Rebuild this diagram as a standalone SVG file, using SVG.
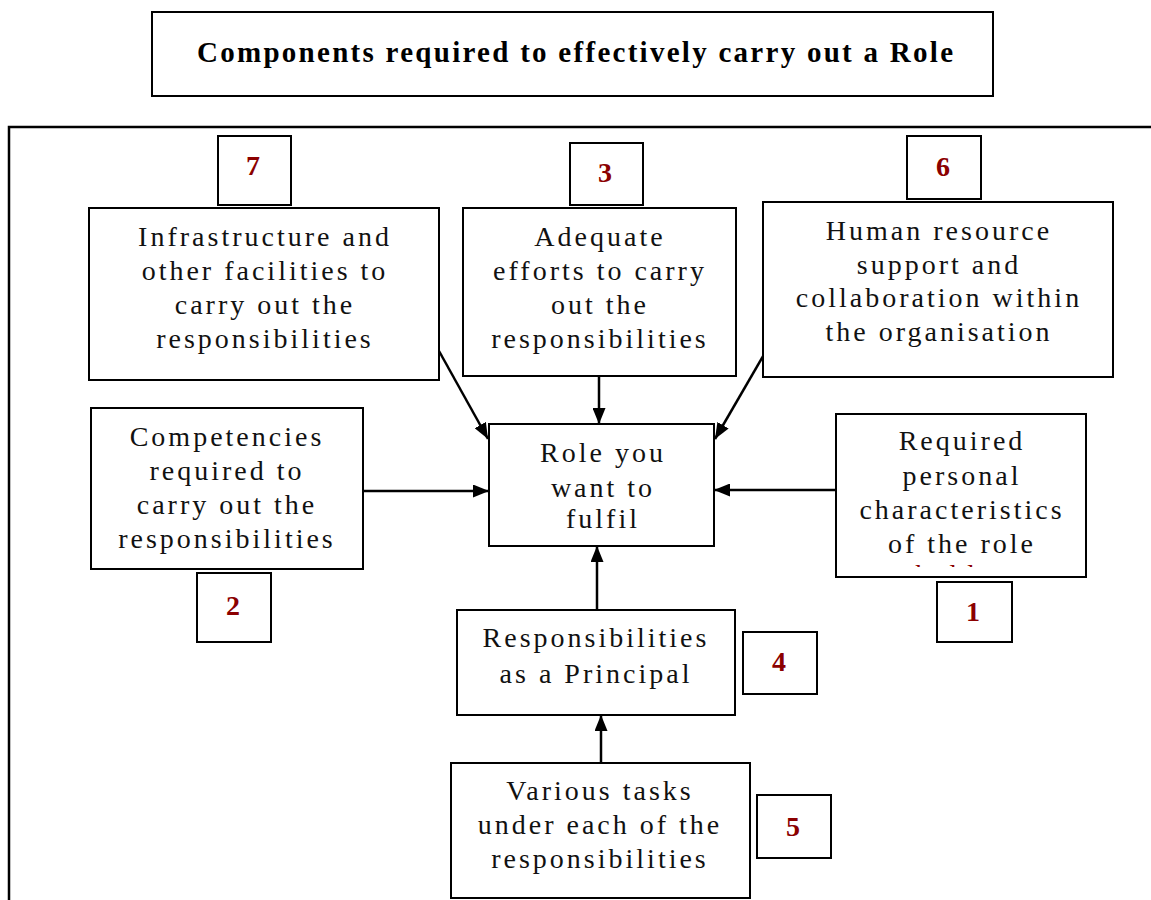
<svg xmlns="http://www.w3.org/2000/svg" width="1151" height="900" viewBox="0 0 1151 900">
  <style>
    .box { fill: #fff; stroke: #000; stroke-width: 2; }
    .frame { fill: none; stroke: #000; stroke-width: 2.5; }
    .t { font-family: "Liberation Serif", "Times New Roman", serif; font-size: 28px; letter-spacing: 3px; text-anchor: middle; fill: #111; }
    .t.red { fill: #8b0000; }
    .num { font-family: "Liberation Serif", "Times New Roman", serif; font-size: 28px; font-weight: bold; text-anchor: middle; fill: #8b0000; }
    .title { font-family: "Liberation Serif", "Times New Roman", serif; font-size: 29px; font-weight: bold; fill: #000; }
    .conn { stroke: #000; stroke-width: 2.5; fill: none; marker-end: url(#arrow); }
  </style>
  <defs>
    <marker id="arrow" viewBox="0 0 16 13" refX="16" refY="6.5" markerWidth="16" markerHeight="13" markerUnits="userSpaceOnUse" orient="auto">
      <path d="M0,0 L16,6.5 L0,13 Z" fill="#000"/>
    </marker>
    <clipPath id="clipReq">
      <rect x="836" y="414" width="250" height="153"/>
    </clipPath>
  </defs>

  <rect width="1151" height="900" fill="#fff"/>

  <!-- title -->
  <g id="title">
    <rect class="box" x="152" y="12" width="841" height="84"/>
    <text class="title" x="197" y="62" textLength="756" lengthAdjust="spacing">Components required to effectively carry out a Role</text>
  </g>

  <!-- outer frame -->
  <path class="frame" d="M1151,127 L9,127 L9,900"/>

  <!-- connectors -->
  <g id="connectors">
    <line class="conn" x1="439" y1="351" x2="488" y2="439"/>
    <line class="conn" x1="599" y1="376" x2="599" y2="424"/>
    <line class="conn" x1="766" y1="351" x2="715" y2="439"/>
    <line class="conn" x1="363" y1="491" x2="489" y2="491"/>
    <line class="conn" x1="836" y1="490" x2="714" y2="490"/>
    <line class="conn" x1="597" y1="610" x2="597" y2="546"/>
    <line class="conn" x1="601" y1="763" x2="601" y2="715"/>
  </g>

  <!-- central node -->
  <g id="role">
    <rect class="box" x="489" y="424" width="225" height="122"/>
    <text class="t" x="603" y="462">Role you</text>
    <text class="t" x="603" y="497">want to</text>
    <text class="t" x="603" y="528">fulfil</text>
  </g>

  <g id="infrastructure">
    <rect class="box" x="89" y="208" width="350" height="172"/>
    <text class="t" x="265" y="246">Infrastructure and</text>
    <text class="t" x="265" y="280">other facilities to</text>
    <text class="t" x="265" y="314">carry out the</text>
    <text class="t" x="265" y="348">responsibilities</text>
  </g>

  <g id="efforts">
    <rect class="box" x="463" y="208" width="273" height="168"/>
    <text class="t" x="600" y="246">Adequate</text>
    <text class="t" x="600" y="280">efforts to carry</text>
    <text class="t" x="600" y="314">out the</text>
    <text class="t" x="600" y="348">responsibilities</text>
  </g>

  <g id="human-resource">
    <rect class="box" x="763" y="202" width="350" height="175"/>
    <text class="t" x="939" y="240">Human resource</text>
    <text class="t" x="939" y="274">support and</text>
    <text class="t" x="939" y="307">collaboration within</text>
    <text class="t" x="939" y="341">the organisation</text>
  </g>

  <g id="competencies">
    <rect class="box" x="91" y="408" width="272" height="161"/>
    <text class="t" x="227" y="446">Competencies</text>
    <text class="t" x="227" y="480">required to</text>
    <text class="t" x="227" y="514">carry out the</text>
    <text class="t" x="227" y="548">responsibilities</text>
  </g>

  <g id="personal">
    <rect class="box" x="836" y="414" width="250" height="163"/>
    <text class="t" x="962" y="450">Required</text>
    <text class="t" x="962" y="485">personal</text>
    <text class="t" x="962" y="519">characteristics</text>
    <text class="t" x="962" y="553">of the role</text>
    <!-- last word sits below the box's text area, only its ascender tips show -->
    <text class="t red" x="960" y="584" clip-path="url(#clipReq)">holder</text>
  </g>

  <g id="responsibilities">
    <rect class="box" x="457" y="610" width="278" height="105"/>
    <text class="t" x="596" y="647">Responsibilities</text>
    <text class="t" x="596" y="683">as a Principal</text>
  </g>

  <g id="tasks">
    <rect class="box" x="451" y="763" width="299" height="135"/>
    <text class="t" x="600" y="800">Various tasks</text>
    <text class="t" x="600" y="834">under each of the</text>
    <text class="t" x="600" y="868">responsibilities</text>
  </g>

  <!-- numbered tags -->
  <g id="n7"><rect class="box" x="218" y="136" width="73" height="69"/><text class="num" x="253" y="175">7</text></g>
  <g id="n3"><rect class="box" x="570" y="143" width="73" height="62"/><text class="num" x="605" y="182">3</text></g>
  <g id="n6"><rect class="box" x="907" y="136" width="74" height="63"/><text class="num" x="943" y="176">6</text></g>
  <g id="n2"><rect class="box" x="197" y="573" width="74" height="69"/><text class="num" x="233" y="615">2</text></g>
  <g id="n1"><rect class="box" x="937" y="582" width="75" height="60"/><text class="num" x="973" y="621">1</text></g>
  <g id="n4"><rect class="box" x="743" y="632" width="74" height="62"/><text class="num" x="779" y="671">4</text></g>
  <g id="n5"><rect class="box" x="757" y="795" width="74" height="63"/><text class="num" x="793" y="836">5</text></g>
</svg>
